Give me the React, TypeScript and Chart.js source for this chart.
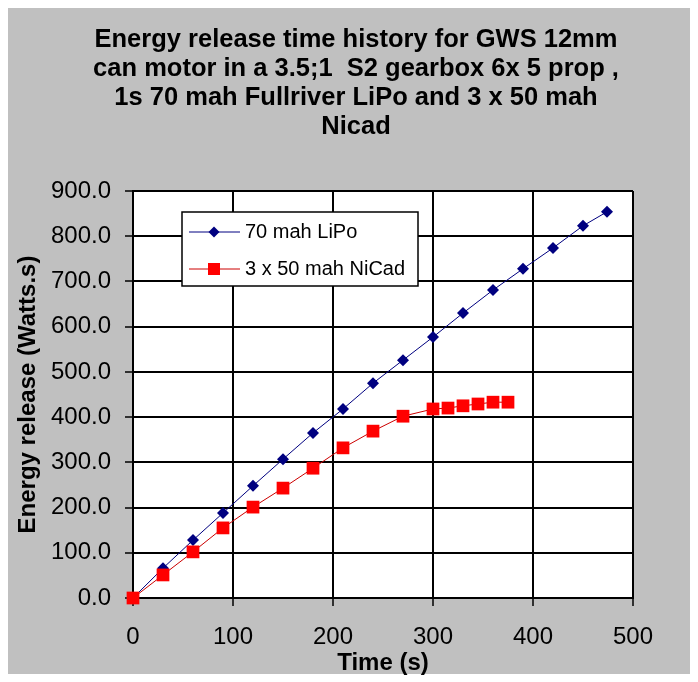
import React, { useEffect, useRef } from "react";
import { Chart, registerables } from "chart.js";

Chart.register(...registerables);

const titleLines = [
  "Energy release time history for GWS 12mm",
  "can motor in a 3.5;1  S2 gearbox 6x 5 prop ,",
  "1s 70 mah Fullriver LiPo and 3 x 50 mah",
  "Nicad",
];
const xTitle = "Time (s)";
const yTitle = "Energy release (Watts.s)";
const seriesNames = ["70 mah LiPo", "3 x 50 mah NiCad"];

const lipoTime = [0, 30, 60, 90, 120, 150, 180, 210, 240, 270, 300, 330, 360, 390, 420, 450, 474];
const lipoEnergy = [0, 66, 128, 188, 248, 307, 365, 418, 475, 526, 577, 630, 681, 728, 774, 823, 854];
const nicadTime = [0, 30, 60, 90, 120, 150, 180, 210, 240, 270, 300, 315, 330, 345, 360, 375];
const nicadEnergy = [0, 51, 102, 155, 201, 243, 287, 332, 369, 402, 418, 420, 425, 429, 433, 433];

const FONT = "'Liberation Sans', Arial, sans-serif";

const bgPlugin = {
  id: "bgPlugin",
  beforeDraw(chart: any) {
    const { ctx, width, height, chartArea } = chart;
    ctx.save();
    ctx.fillStyle = "#ffffff";
    ctx.fillRect(0, 0, width, height);
    ctx.fillStyle = "#c0c0c0";
    ctx.fillRect(8, 8, width - 16, height - 16);
    ctx.fillStyle = "#ffffff";
    ctx.fillRect(chartArea.left, chartArea.top, chartArea.right - chartArea.left, chartArea.bottom - chartArea.top);
    ctx.restore();
  },
};

const legendPlugin = {
  id: "boxLegend",
  afterDraw(chart: any) {
    const { ctx, chartArea } = chart;
    const left = chartArea.left + 49;
    const top = chartArea.top + 21;
    const w = 236;
    const h = 74;
    ctx.save();
    ctx.fillStyle = "#ffffff";
    ctx.fillRect(left, top, w, h);
    ctx.strokeStyle = "#000000";
    ctx.lineWidth = 1.5;
    ctx.strokeRect(left, top, w, h);
    chart.data.datasets.forEach((ds: any, i: number) => {
      const y = top + 20 + i * 37;
      ctx.strokeStyle = ds.borderColor;
      ctx.lineWidth = 1;
      ctx.beginPath();
      ctx.moveTo(left + 7, y);
      ctx.lineTo(left + 58, y);
      ctx.stroke();
      const cx = left + 32;
      ctx.fillStyle = ds.pointBackgroundColor;
      ctx.beginPath();
      if (ds.pointStyle === "rectRot") {
        const r = 5.5;
        ctx.moveTo(cx, y - r);
        ctx.lineTo(cx + r, y);
        ctx.lineTo(cx, y + r);
        ctx.lineTo(cx - r, y);
        ctx.closePath();
      } else {
        const s = 6;
        ctx.rect(cx - s, y - s, 2 * s, 2 * s);
      }
      ctx.fill();
      ctx.fillStyle = "#000000";
      ctx.font = `20px ${FONT}`;
      ctx.textBaseline = "middle";
      ctx.textAlign = "left";
      ctx.fillText(seriesNames[i], left + 63, y);
    });
    ctx.restore();
  },
};

export default function App() {
  const ref = useRef<HTMLCanvasElement | null>(null);

  useEffect(() => {
    if (!ref.current) return;
    const chart = new Chart(ref.current, {
      type: "line",
      data: {
        datasets: [
          {
            label: seriesNames[0],
            data: lipoTime.map((t, i) => ({ x: t, y: lipoEnergy[i] })),
            borderColor: "#000080",
            borderWidth: 1,
            pointStyle: "rectRot",
            pointRadius: 6,
            pointBackgroundColor: "#000080",
            pointBorderColor: "#000080",
            pointBorderWidth: 0,
            clip: false,
            order: 1,
          },
          {
            label: seriesNames[1],
            data: nicadTime.map((t, i) => ({ x: t, y: nicadEnergy[i] })),
            borderColor: "#cc0000",
            borderWidth: 1,
            pointStyle: "rect",
            pointRadius: 9,
            pointBackgroundColor: "#ff0000",
            pointBorderColor: "#ee0000",
            pointBorderWidth: 0,
            clip: false,
            order: 0,
          },
        ] as any,
      },
      options: {
        animation: false,
        responsive: false,
        maintainAspectRatio: false,
        layout: { padding: { left: 14, right: 0, top: 0, bottom: 4 } },
        plugins: {
          legend: { display: false },
          tooltip: { enabled: false },
          title: {
            display: true,
            text: titleLines,
            color: "#000000",
            font: { family: FONT, size: 25.5, weight: "bold", lineHeight: 29 / 25.5 },
            padding: { top: 25, bottom: 50 },
          },
        },
        scales: {
          x: {
            type: "linear",
            position: "bottom",
            min: 0,
            max: 500,
            ticks: {
              stepSize: 100,
              color: "#000000",
              font: { family: FONT, size: 24 },
              padding: 17,
              maxRotation: 0,
            },
            grid: { color: "#000000", lineWidth: 2, tickLength: 8, tickColor: "#000000", tickWidth: 1.5 },
            border: { color: "#000000", width: 2 },
            title: {
              display: true,
              text: xTitle,
              color: "#000000",
              font: { family: FONT, size: 24, weight: "bold", lineHeight: 1.2 },
              padding: 0,
            },
            afterFit: (s: any) => {
              s.height = 80;
            },
          },
          y: {
            type: "linear",
            position: "left",
            min: 0,
            max: 900,
            ticks: {
              stepSize: 100,
              color: "#000000",
              font: { family: FONT, size: 24 },
              padding: 14,
              callback: (v: any) => Number(v).toFixed(1),
            },
            grid: { color: "#000000", lineWidth: 2, tickLength: 8, tickColor: "#000000", tickWidth: 1.5 },
            border: { color: "#000000", width: 2 },
            title: {
              display: true,
              text: yTitle,
              color: "#000000",
              font: { family: FONT, size: 24, weight: "bold", lineHeight: 1.2 },
              padding: 0,
            },
            afterFit: (s: any) => {
              s.width = 119;
            },
          },
          yRight: {
            type: "linear",
            position: "right",
            display: true,
            ticks: { display: false },
            grid: { display: false, drawTicks: false },
            border: { display: false },
            afterFit: (s: any) => {
              s.width = 65;
            },
          },
        },
      } as any,
      plugins: [bgPlugin, legendPlugin],
    });
    return () => chart.destroy();
  }, []);

  return (
    <div style={{ position: "absolute", left: 0, top: 0, width: 698, height: 682 }}>
      <canvas ref={ref} width={698} height={682} style={{ display: "block", width: 698, height: 682 }} />
    </div>
  );
}
